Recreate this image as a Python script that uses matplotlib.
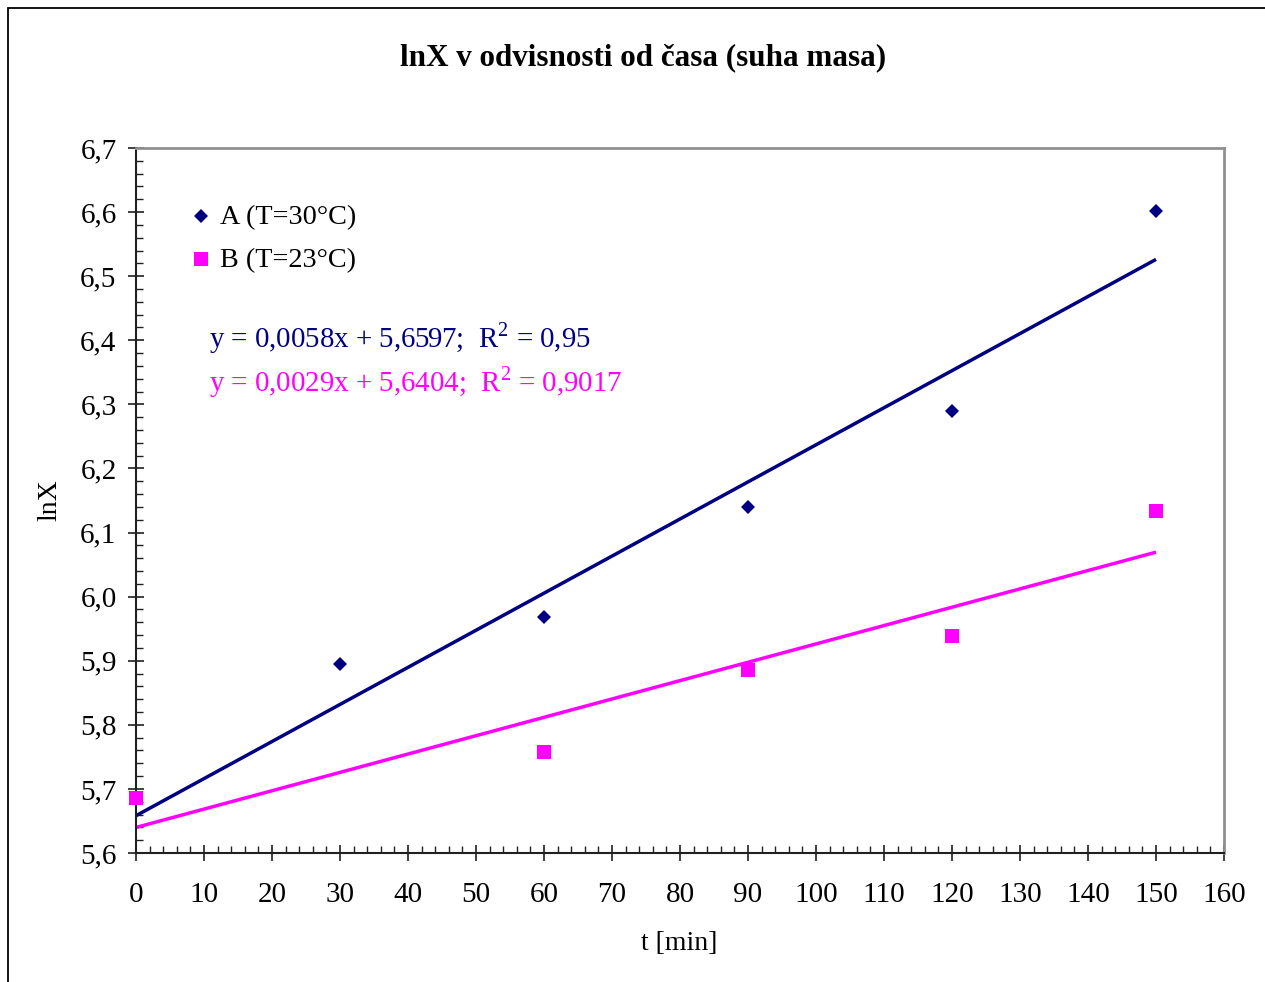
import numpy as np
import matplotlib
matplotlib.use("Agg")
import matplotlib.pyplot as plt
from matplotlib.ticker import MultipleLocator, FuncFormatter
from matplotlib.patches import Rectangle
from matplotlib.lines import Line2D

# Data
t_A = [30, 60, 90, 120, 150]
lnX_A = [5.895, 5.968, 6.140, 6.290, 6.602]
t_B = [0, 60, 90, 120, 150]
lnX_B = [5.686, 5.758, 5.885, 5.939, 6.134]
label_A = "A (T=30°C)"
label_B = "B (T=23°C)"
eq_A = "y = 0,0058x + 5,6597;  R$^{2}$ = 0,95"
eq_B = "y = 0,0029x + 5,6404;  R$^{2}$ = 0,9017"
title = "lnX v odvisnosti od časa (suha masa)"
xlabel = "t [min]"
ylabel = "lnX"

navy = "#000080"
magenta = "#FF00FF"

plt.rcParams['font.family'] = ['Liberation Serif', 'DejaVu Serif']
plt.rcParams['mathtext.fontset'] = 'custom'
plt.rcParams['mathtext.rm'] = 'Liberation Serif'

W, H = 1265, 982
fig = plt.figure(figsize=(W / 100, H / 100), dpi=100)
ax = fig.add_axes([136 / W, 1 - 853 / H, (1224 - 136) / W, (853 - 148) / H])

# figure border (left/top visible)
fig.patches.append(Rectangle((8 / W, -0.1), 1.2, 1.1 - 8 / H, transform=fig.transFigure,
                             fill=False, edgecolor='black', linewidth=1.3))

# trend lines
pA = np.polyfit(t_A, lnX_A, 1)
pB = np.polyfit(t_B, lnX_B, 1)
xs = np.array([0, 150])
ax.plot(xs, np.polyval(pA, xs), color=navy, lw=2.5, solid_capstyle='butt', zorder=2)
ax.plot(xs, np.polyval(pB, xs), color=magenta, lw=2.5, solid_capstyle='butt', zorder=2)

ax.plot(t_A, lnX_A, ls='none', marker='D', ms=7, color=navy, mew=0, zorder=3, clip_on=False)
ax.plot(t_B, lnX_B, ls='none', marker='s', ms=10, color=magenta, mew=0, zorder=3, clip_on=False)

ax.set_xlim(0, 160)
ax.set_ylim(5.6, 6.7)
ax.xaxis.set_major_locator(MultipleLocator(10))
ax.xaxis.set_minor_locator(MultipleLocator(2))
ax.yaxis.set_major_locator(MultipleLocator(0.1))
ax.yaxis.set_minor_locator(MultipleLocator(0.02))
ax.yaxis.set_major_formatter(FuncFormatter(lambda v, p: f"{v:.1f}".replace('.', ',')))

ax.tick_params(axis='both', which='major', direction='inout', length=12, width=1.2,
               labelsize=21, color='#202020')
ax.tick_params(axis='x', which='major', pad=15)
ax.tick_params(axis='y', which='major', pad=8)
ax.tick_params(axis='both', which='minor', direction='in', length=5, width=1.0, color='#202020')

for s in ['left', 'bottom']:
    ax.spines[s].set_color('#202020')
    ax.spines[s].set_linewidth(1.5)
for s in ['top', 'right']:
    ax.spines[s].set_color('#909090')
    ax.spines[s].set_linewidth(2)

# legend (manual)
fig.add_artist(Line2D([201 / W], [1 - 216 / H], marker='D', ms=7, color=navy, mew=0,
                      ls='none', transform=fig.transFigure))
fig.text(220 / W, 1 - 218 / H, label_A, fontsize=20.3, va='center', ha='left')
fig.add_artist(Line2D([201 / W], [1 - 259 / H], marker='s', ms=10, color=magenta, mew=0,
                      ls='none', transform=fig.transFigure))
fig.text(220 / W, 1 - 261 / H, label_B, fontsize=20.3, va='center', ha='left')

# equations
fig.text(209 / W, 1 - 338 / H, eq_A, fontsize=20.8, va='center', ha='left', color=navy)
fig.text(209 / W, 1 - 382 / H, eq_B, fontsize=20.8, va='center', ha='left', color=magenta)

fig.text(643 / W, 1 - 58 / H, title, fontsize=22.4, fontweight='bold', ha='center', va='center')
fig.text(679 / W, 1 - 943 / H, xlabel, fontsize=20, ha='center', va='center')
fig.text(50 / W, 1 - 500 / H, ylabel, fontsize=20, ha='center', va='center', rotation=90)

fig.savefig("out.png", dpi=100)
